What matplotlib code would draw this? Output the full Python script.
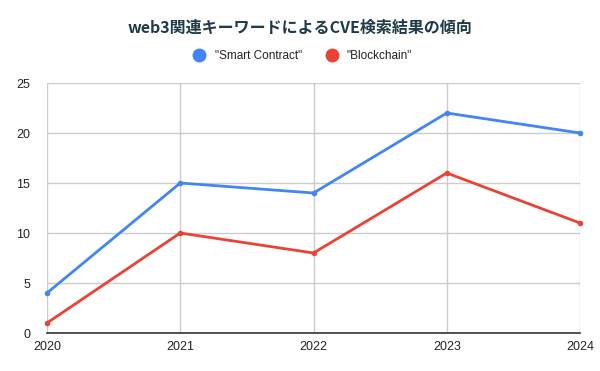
import matplotlib
matplotlib.use("Agg")
import matplotlib.pyplot as plt
from matplotlib.lines import Line2D

plt.rcParams['font.family'] = ['Noto Sans CJK JP', 'DejaVu Sans']

years = ["2020", "2021", "2022", "2023", "2024"]
smart_contract = [4, 15, 14, 22, 20]
blockchain = [1, 10, 8, 16, 11]
series_names = ['"Smart Contract"', '"Blockchain"']
colors = ['#4285F4', '#EA4335']
title = "web3関連キーワードによるCVE検索結果の傾向"

fig = plt.figure(figsize=(6, 3.71), dpi=100)
ax = fig.add_axes([47/600, 1 - 333/371, 533/600, 250/371])

x = list(range(len(years)))
ax.plot(x, smart_contract, color=colors[0], lw=2, marker='o', ms=3, zorder=3, clip_on=False)
ax.plot(x, blockchain, color=colors[1], lw=2, marker='o', ms=3, zorder=3, clip_on=False)

ax.set_xlim(0, len(years) - 1)
ax.set_ylim(0, 25)
ax.set_yticks([0, 5, 10, 15, 20, 25])
ax.set_xticks(x)
ax.set_xticklabels(years)
ax.grid(True, color='#cccccc', lw=1)
ax.set_axisbelow(True)
for s in ['top', 'right', 'left']:
    ax.spines[s].set_visible(False)
ax.spines['bottom'].set_color('#333333')
ax.spines['bottom'].set_linewidth(1.2)
ax.tick_params(length=0, labelsize=9, colors='#222222')
ax.tick_params(axis='x', pad=6)
ax.tick_params(axis='y', pad=12)
for lab in ax.get_yticklabels() + ax.get_xticklabels():
    lab.set_fontfamily(['Liberation Sans', 'DejaVu Sans'])

fig.text(0.5, 1 - 28/371, title, ha='center', va='center', fontsize=11.5,
         fontweight='bold', color='#1e3b46')

handles = [Line2D([], [], marker='o', ls='none', color=c, ms=9) for c in colors]
leg = fig.legend(handles, series_names, loc='center', bbox_to_anchor=(0.5, 1 - 56/371),
                 ncol=2, frameon=False, fontsize=8.5, handletextpad=0.3, columnspacing=1.5)
for t in leg.get_texts():
    t.set_fontfamily(['Liberation Sans', 'DejaVu Sans'])
    t.set_color('#222222')

fig.savefig('out.png', dpi=100)
